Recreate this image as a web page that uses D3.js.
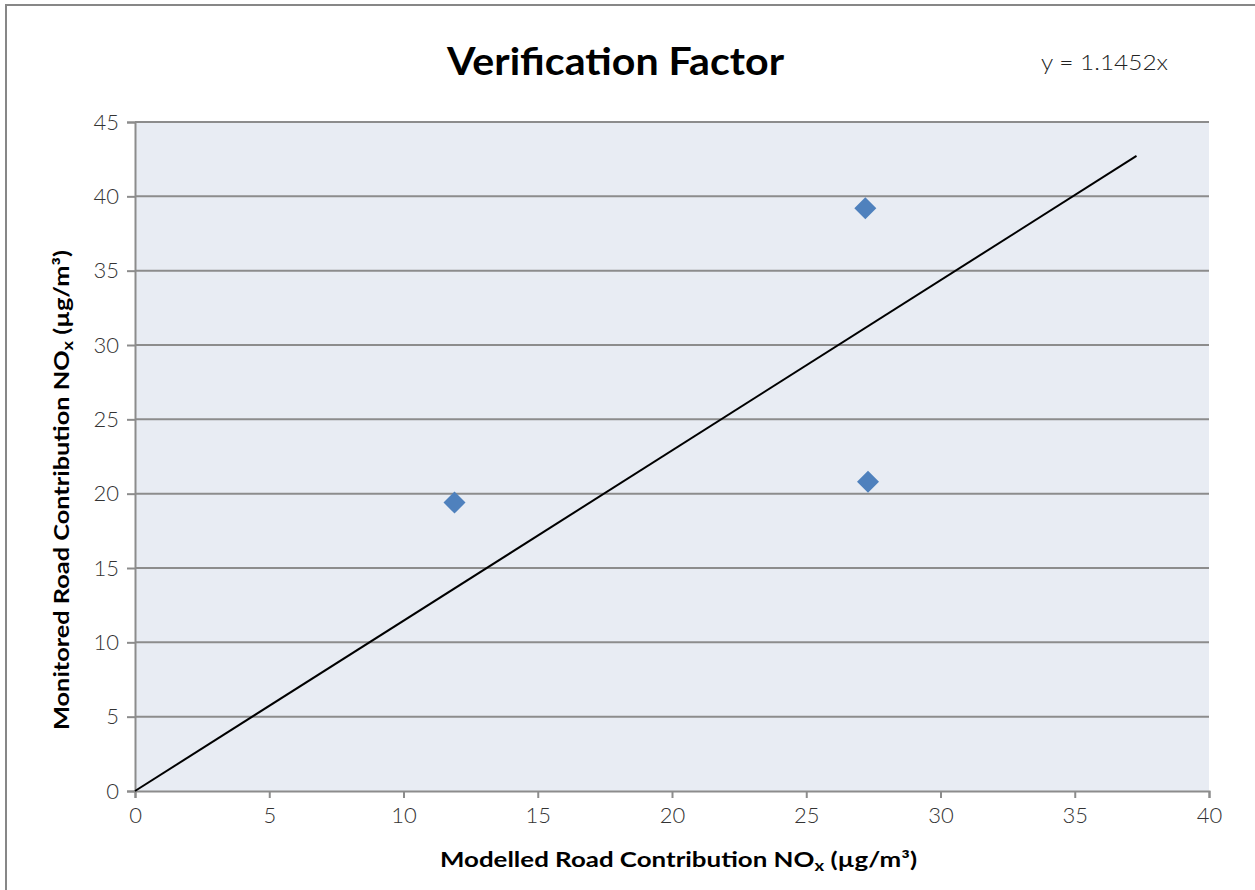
<!DOCTYPE html>
<html><head><meta charset="utf-8">
<script src="https://cdn.jsdelivr.net/npm/d3@7"></script>
<style>body{margin:0;background:#fff;} svg{display:block;font-family:"Century Gothic","Lato","DejaVu Sans",sans-serif;}</style>
</head><body>
<svg id="c" width="1255" height="890"></svg>
<script>
const modelled = [27.2, 11.9, 27.3];
const monitored = [39.2, 19.4, 20.8];
const slope = 1.1452;
const trendEndX = 37.3;
const xTicks = [0,5,10,15,20,25,30,35,40];
const yTicks = [0,5,10,15,20,25,30,35,40,45];

const svg = d3.select("#c");
const L = 135, R = 1209, T = 122, B = 791;
const x = d3.scaleLinear().domain([0,40]).range([L,R]);
const y = d3.scaleLinear().domain([0,45]).range([B,T]);

svg.append("rect").attr("x",6).attr("y",5).attr("width",1260).attr("height",900)
  .attr("fill","#fff").attr("stroke","#878787").attr("stroke-width",2);

svg.append("rect").attr("x",L).attr("y",T).attr("width",R-L).attr("height",B-T).attr("fill","#e8ecf3");

svg.append("g").selectAll("line").data(yTicks.filter(d=>d>0)).join("line")
  .attr("x1",L).attr("x2",R).attr("y1",d=>y(d)).attr("y2",d=>y(d))
  .attr("stroke","#8c8c8c").attr("stroke-width",2);

const yAxis = svg.append("g").attr("transform",`translate(${L},0)`)
  .call(d3.axisLeft(y).tickValues(yTicks).tickSize(8).tickPadding(8).tickFormat(d3.format("d")));
const xAxis = svg.append("g").attr("transform",`translate(0,${B})`)
  .call(d3.axisBottom(x).tickValues(xTicks).tickSize(7).tickPadding(9).tickFormat(d3.format("d")));
[yAxis,xAxis].forEach(g=>{
  g.selectAll("path").attr("stroke","#8c8c8c").attr("stroke-width",2);
  g.selectAll("line").attr("stroke","#8c8c8c").attr("stroke-width",2);
  g.selectAll("text").attr("fill","#333").style("font-size","22px").style("font-weight","300")
   .style("font-family","'Century Gothic','Lato','DejaVu Sans',sans-serif");
});

svg.append("line").attr("x1",x(0)).attr("y1",y(0)).attr("x2",x(trendEndX)).attr("y2",y(slope*trendEndX))
  .attr("stroke","#000").attr("stroke-width",2);

const pts = modelled.map((m,i)=>({m, v: monitored[i]}));
svg.append("g").selectAll("path").data(pts).join("path")
  .attr("transform",d=>`translate(${x(d.m)},${y(d.v)})`)
  .attr("d","M0,-11L11,0L0,11L-11,0Z").attr("fill","#4f81bd");

svg.append("text").attr("x",447).attr("y",75)
  .attr("textLength",337).attr("lengthAdjust","spacingAndGlyphs")
  .style("font-size","38px").style("font-weight","bold").attr("fill","#000").text("Verification Factor");
svg.append("text").attr("x",1041).attr("y",70)
  .attr("textLength",127).attr("lengthAdjust","spacingAndGlyphs")
  .style("font-size","22px").style("font-weight","300").attr("fill","#222").text("y = 1.1452x");

const xl = svg.append("text").attr("x",440).attr("y",867)
  .attr("textLength",477).attr("lengthAdjust","spacingAndGlyphs")
  .style("font-size","21px").style("font-weight","bold").attr("fill","#000");
xl.append("tspan").text("Modelled Road Contribution NO");
xl.append("tspan").attr("baseline-shift","-25%").style("font-size","15px").text("x");
xl.append("tspan").text(" (µg/m³)");

const yl = svg.append("text").attr("transform","translate(69,730) rotate(-90)")
  .attr("textLength",480).attr("lengthAdjust","spacingAndGlyphs")
  .style("font-size","21px").style("font-weight","bold").attr("fill","#000");
yl.append("tspan").text("Monitored Road Contribution NO");
yl.append("tspan").attr("baseline-shift","-25%").style("font-size","15px").text("x");
yl.append("tspan").text(" (µg/m³)");
</script>
</body></html>
